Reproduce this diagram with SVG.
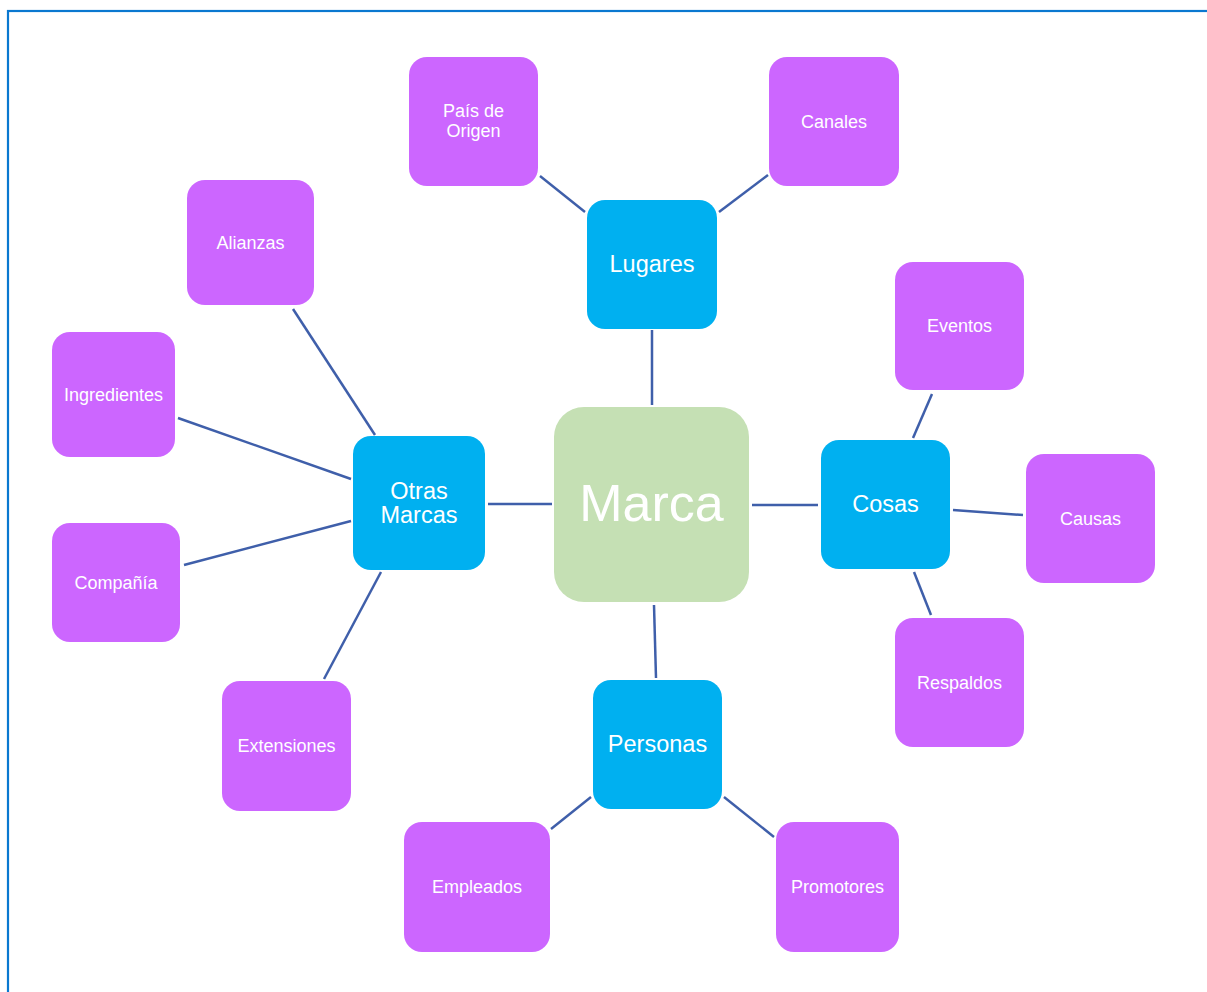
<svg xmlns="http://www.w3.org/2000/svg" width="1207" height="992" viewBox="0 0 1207 992">
  <style>
    .frame { fill: none; stroke: #0A78D0; stroke-width: 2.2; }
    .link { stroke: #3F5FAA; stroke-width: 2.5; fill: none; }
    .core { fill: #C5E0B4; }
    .hub { fill: #00B0F0; }
    .leaf { fill: #CC66FF; }
    text { font-family: "Liberation Sans", Arial, sans-serif; fill: #FFFFFF; text-anchor: middle; dominant-baseline: central; }
    .t-core { font-size: 52px; }
    .t-hub { font-size: 23.5px; }
    .t-leaf { font-size: 18px; }
  </style>

  <rect x="0" y="0" width="1207" height="992" fill="#FFFFFF"/>
  <rect class="frame" x="8" y="11" width="1220" height="1000"/>

  <g id="connectors">
    <line class="link" x1="652" y1="330" x2="652" y2="405"/>
    <line class="link" x1="488" y1="504" x2="552" y2="504"/>
    <line class="link" x1="752" y1="505" x2="818" y2="505"/>
    <line class="link" x1="654" y1="605" x2="656" y2="678"/>
    <line class="link" x1="585" y1="212" x2="540" y2="176"/>
    <line class="link" x1="719" y1="212" x2="768" y2="175"/>
    <line class="link" x1="375" y1="435" x2="293" y2="309"/>
    <line class="link" x1="351" y1="479" x2="178" y2="418"/>
    <line class="link" x1="351" y1="521" x2="184" y2="565"/>
    <line class="link" x1="381" y1="572" x2="324" y2="679"/>
    <line class="link" x1="913" y1="438" x2="932" y2="394"/>
    <line class="link" x1="953" y1="510" x2="1023" y2="515"/>
    <line class="link" x1="914" y1="572" x2="931" y2="615"/>
    <line class="link" x1="591" y1="797" x2="551" y2="829"/>
    <line class="link" x1="724" y1="797" x2="774" y2="837"/>
  </g>

  <g id="marca">
    <rect class="core" x="554" y="407" width="195" height="195" rx="30"/>
    <text class="t-core" x="651.5" y="503">Marca</text>
  </g>

  <g id="lugares">
    <rect class="hub" x="587" y="200" width="130" height="129" rx="18"/>
    <text class="t-hub" x="652" y="264">Lugares</text>
  </g>
  <g id="otras-marcas">
    <rect class="hub" x="353" y="436" width="132" height="134" rx="18"/>
    <text class="t-hub" x="419" y="491">Otras</text>
    <text class="t-hub" x="419" y="515">Marcas</text>
  </g>
  <g id="cosas">
    <rect class="hub" x="821" y="440" width="129" height="129" rx="18"/>
    <text class="t-hub" x="885.5" y="504">Cosas</text>
  </g>
  <g id="personas">
    <rect class="hub" x="593" y="680" width="129" height="129" rx="18"/>
    <text class="t-hub" x="657.5" y="744">Personas</text>
  </g>

  <g id="pais-de-origen">
    <rect class="leaf" x="409" y="57" width="129" height="129" rx="18"/>
    <text class="t-leaf" x="473.5" y="111">País de</text>
    <text class="t-leaf" x="473.5" y="131">Origen</text>
  </g>
  <g id="canales">
    <rect class="leaf" x="769" y="57" width="130" height="129" rx="18"/>
    <text class="t-leaf" x="834" y="121.5">Canales</text>
  </g>
  <g id="alianzas">
    <rect class="leaf" x="187" y="180" width="127" height="125" rx="18"/>
    <text class="t-leaf" x="250.5" y="242.5">Alianzas</text>
  </g>
  <g id="ingredientes">
    <rect class="leaf" x="52" y="332" width="123" height="125" rx="18"/>
    <text class="t-leaf" x="113.5" y="394.5">Ingredientes</text>
  </g>
  <g id="compania">
    <rect class="leaf" x="52" y="523" width="128" height="119" rx="18"/>
    <text class="t-leaf" x="116" y="582.5">Compañía</text>
  </g>
  <g id="extensiones">
    <rect class="leaf" x="222" y="681" width="129" height="130" rx="18"/>
    <text class="t-leaf" x="286.5" y="746">Extensiones</text>
  </g>
  <g id="eventos">
    <rect class="leaf" x="895" y="262" width="129" height="128" rx="18"/>
    <text class="t-leaf" x="959.5" y="326">Eventos</text>
  </g>
  <g id="causas">
    <rect class="leaf" x="1026" y="454" width="129" height="129" rx="18"/>
    <text class="t-leaf" x="1090.5" y="518.5">Causas</text>
  </g>
  <g id="respaldos">
    <rect class="leaf" x="895" y="618" width="129" height="129" rx="18"/>
    <text class="t-leaf" x="959.5" y="683">Respaldos</text>
  </g>
  <g id="empleados">
    <rect class="leaf" x="404" y="822" width="146" height="130" rx="18"/>
    <text class="t-leaf" x="477" y="887">Empleados</text>
  </g>
  <g id="promotores">
    <rect class="leaf" x="776" y="822" width="123" height="130" rx="18"/>
    <text class="t-leaf" x="837.5" y="887">Promotores</text>
  </g>
</svg>
